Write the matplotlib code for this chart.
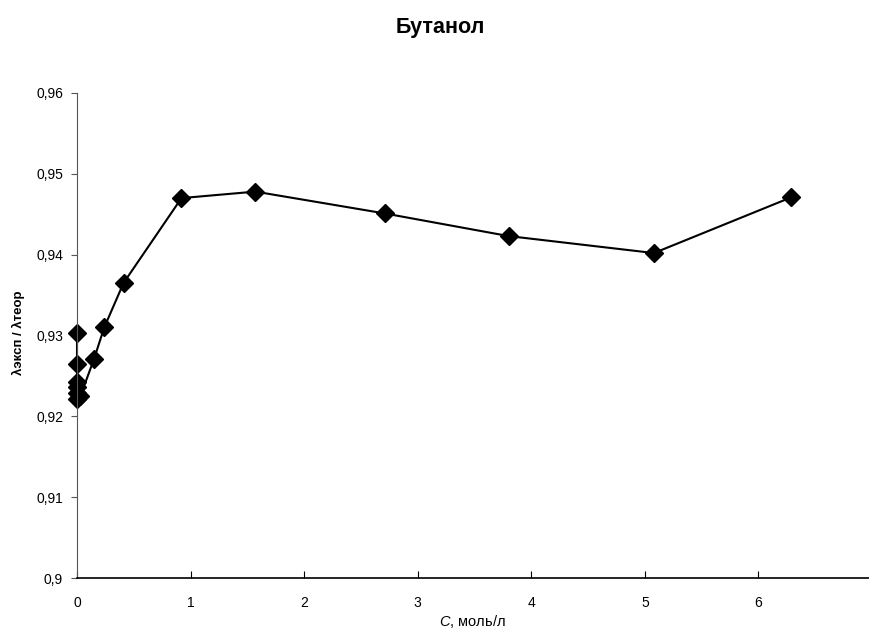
import numpy as np
import matplotlib.pyplot as plt
from matplotlib.ticker import FuncFormatter

plt.rcParams['font.family'] = ['Liberation Sans', 'DejaVu Sans']
plt.rcParams['mathtext.fontset'] = 'custom'
plt.rcParams['mathtext.it'] = 'Liberation Sans:italic'
plt.rcParams['mathtext.rm'] = 'Liberation Sans'

# concentration, mol/l
conc = [0.0, 0.0, 0.0, 0.0, 0.0, 0.0, 0.03, 0.15, 0.24, 0.41, 0.92, 1.57, 2.71, 3.80, 5.08, 6.29]
# lambda_exp / lambda_theor
ratio = [0.9303, 0.9265, 0.9243, 0.9236, 0.9229, 0.9221, 0.9225, 0.9271, 0.9310, 0.9365,
         0.9470, 0.9478, 0.9451, 0.9423, 0.9402, 0.9471]

x_ticks = [0, 1, 2, 3, 4, 5, 6, 7]
y_ticks = [0.90, 0.91, 0.92, 0.93, 0.94, 0.95, 0.96]

W, H = 870, 635
fig = plt.figure(figsize=(W / 100, H / 100), dpi=100)
ax = fig.add_axes([77 / W, (H - 578) / H, (872 - 77) / W, (578 - 93) / H])

ax.plot(conc, ratio, color='black', lw=1.5, marker='D', markersize=9.5,
        markerfacecolor='black', markeredgecolor='black', clip_on=False)

ax.set_xlim(0, 7)
ax.set_ylim(0.9, 0.96)
ax.set_xticks(x_ticks)
ax.set_yticks(y_ticks)
ax.yaxis.set_major_formatter(FuncFormatter(lambda v, p: ('%g' % round(v, 2)).replace('.', ',')))
ax.tick_params(axis='x', direction='in', length=5, labelsize=10, pad=13)
ax.tick_params(axis='y', direction='out', length=4, labelsize=10, pad=6, color='#555555')

ax.spines['top'].set_visible(False)
ax.spines['right'].set_visible(False)
ax.spines['left'].set_color('#555555')
ax.spines['bottom'].set_linewidth(1.2)

# axis titles placed in figure pixels
fig.text(472 / W, 1 - 622 / H, r'$\it{C}$, моль/л', ha='center', va='center', fontsize=10.5)
fig.text(18 / W, 1 - 333 / H, 'λэксп / λтеор', ha='center', va='center',
         rotation=90, fontsize=9.5, fontweight='bold')
fig.text(440 / W, 1 - 27 / H, 'Бутанол', ha='center', va='center',
         fontsize=15.5, fontweight='bold')

fig.savefig('out.png', dpi=100, facecolor='white')
